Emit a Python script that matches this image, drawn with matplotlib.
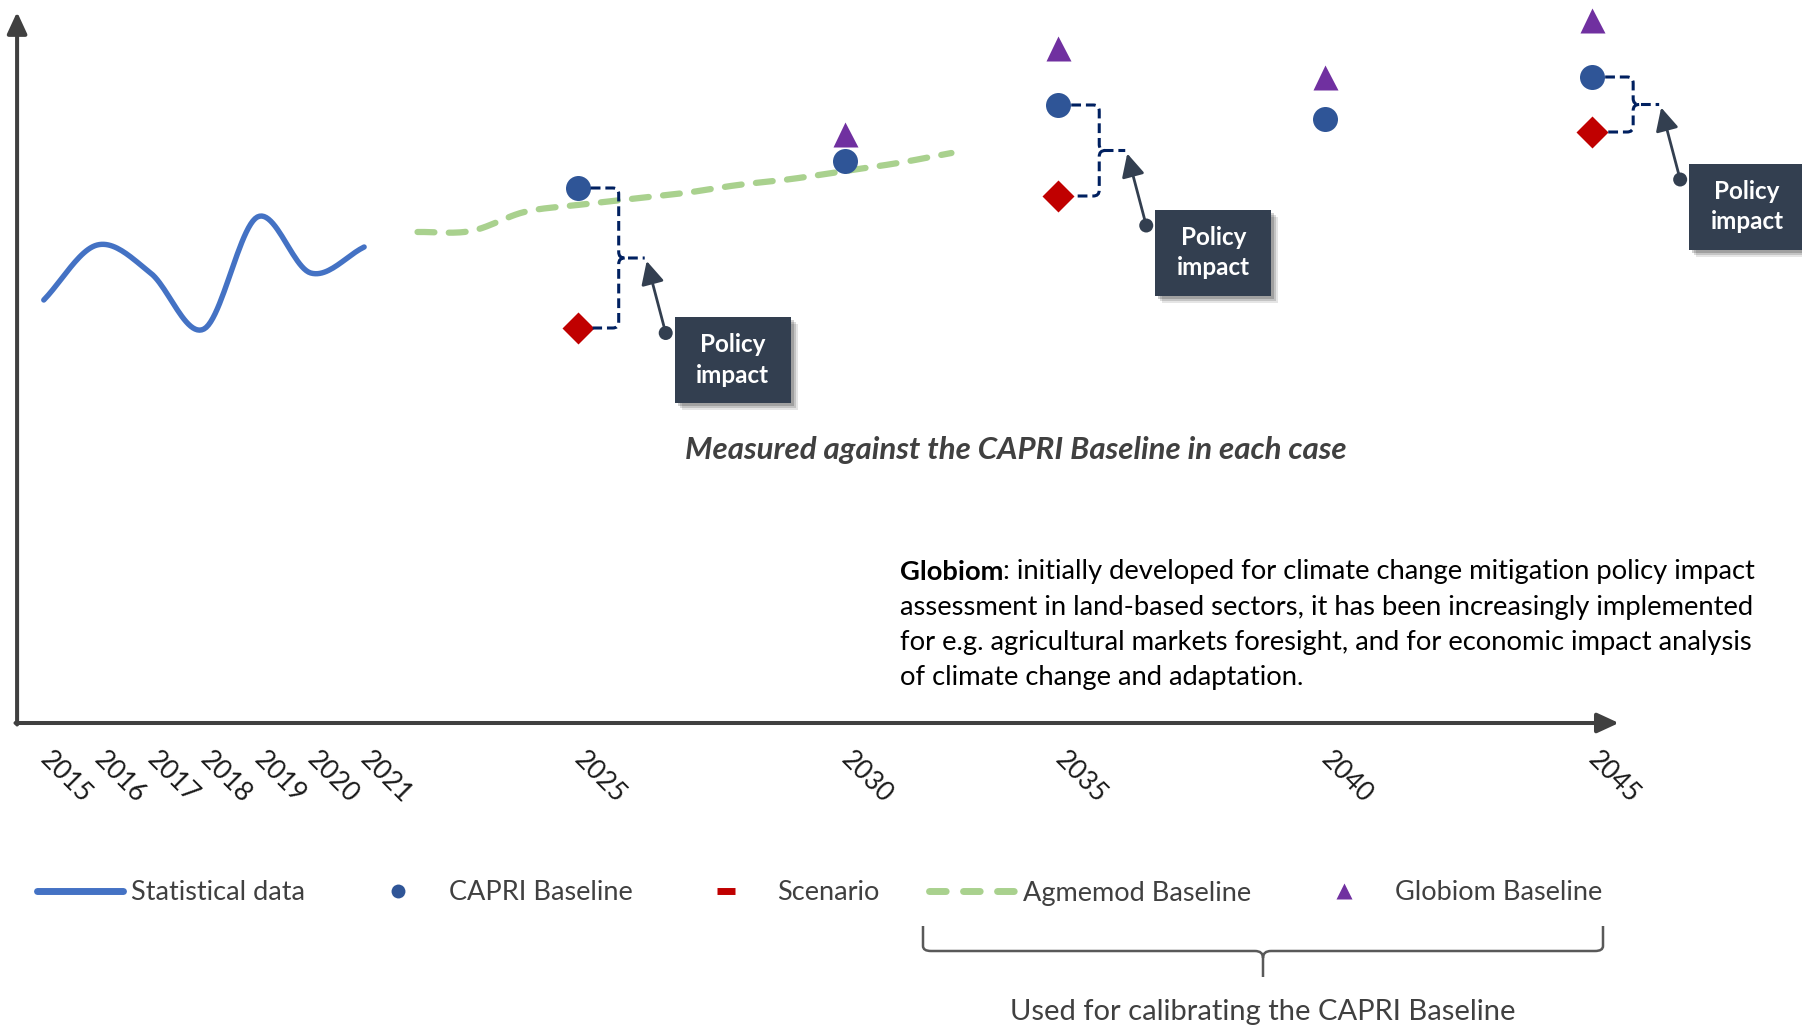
import numpy as np
import matplotlib
matplotlib.use('Agg')
import matplotlib.pyplot as plt
from matplotlib.lines import Line2D
from matplotlib.patches import FancyArrowPatch, Rectangle, PathPatch, Circle
from matplotlib.path import Path
from matplotlib.transforms import ScaledTranslation, IdentityTransform

plt.rcParams['font.family'] = ['Lato', 'DejaVu Sans']

# ── Data ──────────────────────────────────────────────────────────────
stat_years = [2015, 2016, 2017, 2018, 2019, 2020, 2021]
stat_values = [84.6, 95.6, 90.0, 78.8, 101.2, 90.0, 95.2]

agm_years = [2022, 2023, 2024, 2025, 2026, 2027, 2028, 2029, 2030, 2031, 2032]
agm_values = [98.2, 98.4, 102.2, 103.6, 104.8, 106.0, 107.6, 108.8, 110.4, 112.0, 114.0]

model_years = [2025, 2030, 2035, 2040, 2045]
capri_values = [107.0, 112.4, 123.6, 120.9, 129.2]
scenario_values = [79.0, np.nan, 105.4, np.nan, 118.2]
globiom_values = [np.nan, 117.9, 135.0, 129.2, 140.6]

# years that get a "Policy impact" call-out
impact_years = [2025, 2035, 2045]

tick_years = [2015, 2016, 2017, 2018, 2019, 2020, 2021, 2025, 2030, 2035, 2040, 2045]
tick_labels = [str(y) for y in tick_years]

legend_labels = ['Statistical data', 'CAPRI Baseline', 'Scenario',
                 'Agmemod Baseline', 'Globiom Baseline']

globiom_note = [
    'initially developed for climate change mitigation policy impact',
    'assessment in land-based sectors, it has been increasingly implemented',
    'for e.g. agricultural markets foresight, and for economic impact analysis',
    'of climate change and adaptation.',
]

# ── Colours ───────────────────────────────────────────────────────────
C_STAT = '#4472C4'
C_CAPRI = '#2F5597'
C_SCEN = '#C00000'
C_AGM = '#A9D18E'
C_GLOB = '#7030A0'
C_BOX = '#333F50'
C_BRACKET = '#002060'
C_AXIS = '#404040'
C_TEXT = '#404040'

W, H = 1802, 1028

# the time axis is not linear: a gap is squeezed between 2032 and 2035
SCALE_YEARS = [1990, 2032, 2035, 2070]
SCALE_POS = [-25, 17, 19, 54]


def fwd(x):
    return np.interp(x, SCALE_YEARS, SCALE_POS)


def inv(x):
    return np.interp(x, SCALE_POS, SCALE_YEARS)


def smooth(xs, ys, n=24):
    """Catmull-Rom curve through the points (like a smoothed office line)."""
    P = np.column_stack([np.asarray(xs, float), np.asarray(ys, float)])
    P = np.vstack([2 * P[0] - P[1], P, 2 * P[-1] - P[-2]])
    t = np.linspace(0, 1, n, endpoint=False)[:, None]
    out = []
    for i in range(1, len(P) - 2):
        p0, p1, p2, p3 = P[i - 1], P[i], P[i + 1], P[i + 2]
        seg = 0.5 * (2 * p1 + (-p0 + p2) * t
                     + (2 * p0 - 5 * p1 + 4 * p2 - p3) * t ** 2
                     + (-p0 + 3 * p1 - 3 * p2 + p3) * t ** 3)
        out.append(seg)
    out.append(P[-2][None])
    pts = np.vstack(out)
    return pts[:, 0], pts[:, 1]


fig = plt.figure(figsize=(W / 100, H / 100), dpi=100)
ax = fig.add_axes([0, 0, 1, 1])
ax.set_xscale('function', functions=(fwd, inv))
ax.set_xlim(2014.18, 2048.93)
ax.set_ylim(-61, 144.6)
for s in ax.spines.values():
    s.set_visible(False)
ax.spines['bottom'].set_position(('data', 0))
ax.set_yticks([])
ax.set_xticks(tick_years, tick_labels)
ax.tick_params(axis='x', length=0, pad=39, labelsize=19, labelcolor='#1a1a1a')
for lab in ax.get_xticklabels():
    lab.set_rotation(-45)
    lab.set_ha('center')
    lab.set_va('center')
    lab.set_transform(lab.get_transform() + ScaledTranslation(0.22, 0, fig.dpi_scale_trans))

# axes drawn as arrows
arrow_kw = dict(arrowstyle='-|>,head_length=0.65,head_width=0.3', color=C_AXIS,
                lw=2.9, mutation_scale=20, shrinkA=0, shrinkB=0)
ax.annotate('', xy=(2045.5, 0), xytext=(2014.47, 0), arrowprops=arrow_kw)
ax.annotate('', xy=(2014.5, 142.2), xytext=(2014.5, -0.3), arrowprops=arrow_kw)

# ── Series ────────────────────────────────────────────────────────────
sx, sy = smooth(stat_years, stat_values)
ax.plot(sx, sy, color=C_STAT, lw=3.9, solid_capstyle='round', zorder=3)

gx, gy = smooth(agm_years, agm_values)
ax.plot(gx, gy, color=C_AGM, lw=4.5, dashes=(2.7, 2.3), dash_capstyle='round', zorder=2)

ax.plot(model_years, capri_values, 'o', color=C_CAPRI, ms=18, mec='none', zorder=5)
ax.plot(model_years, scenario_values, 'D', color=C_SCEN, ms=16, mec='none', zorder=5)
ax.plot(model_years, globiom_values, '^', color=C_GLOB, ms=18, mec='none', zorder=5)

# ── Policy impact call-outs (pixel layout derived from the markers) ───
ident = IdentityTransform()
for yr in impact_years:
    i = model_years.index(yr)
    cx, cy_c = ax.transData.transform((yr, capri_values[i]))
    _, cy_d = ax.transData.transform((yr, scenario_values[i]))
    bx = cx + 41
    ny = (cy_c + cy_d) / 2
    nub = bx + 26
    r = 6
    verts = [(cx + 13, cy_c), (bx - r, cy_c), (bx, cy_c), (bx, cy_c - r),
             (bx, ny + r), (bx, ny), (bx + r, ny), (nub, ny),
             (bx + r, ny), (bx, ny), (bx, ny - r), (bx, cy_d + r),
             (bx, cy_d), (bx - r, cy_d), (cx + 15, cy_d)]
    codes = [Path.MOVETO, Path.LINETO, Path.CURVE3, Path.CURVE3,
             Path.LINETO, Path.CURVE3, Path.CURVE3, Path.LINETO,
             Path.MOVETO, Path.CURVE3, Path.CURVE3, Path.LINETO,
             Path.CURVE3, Path.CURVE3, Path.LINETO]
    fig.add_artist(PathPatch(Path(verts, codes), fill=False, ec=C_BRACKET, lw=2.2,
                             ls=(0, (3.2, 1.6)), transform=ident, zorder=4))

    bl = nub + 30
    bt = ny - 59
    bw, bh = 116, 86
    for k, a in enumerate([0.10, 0.14, 0.18]):
        off = 7 - 2 * k
        fig.add_artist(Rectangle((bl + off, bt - bh - off), bw, bh, fc='#000000',
                                 alpha=a, ec='none', transform=ident, zorder=5))
    fig.add_artist(Rectangle((bl, bt - bh), bw, bh, fc=C_BOX, ec='none',
                             transform=ident, zorder=6))
    fig.text((bl + bw / 2) / W, (bt - bh / 2) / H, 'Policy\nimpact', color='white',
             fontsize=17.5, fontweight='bold', ha='center', va='center',
             linespacing=1.4, zorder=7)

    tail = (bl - 9, bt - 16)
    tip = (nub + 2, ny - 3)
    fig.add_artist(FancyArrowPatch(tail, tip, arrowstyle='-|>,head_length=0.7,head_width=0.35',
                                   mutation_scale=20, color=C_BOX, lw=2.0,
                                   shrinkA=0, shrinkB=0, transform=ident, zorder=6))
    fig.add_artist(Circle(tail, 7, fc=C_BOX, ec='none', transform=ident, zorder=6))

# ── Text notes ────────────────────────────────────────────────────────
fig.text(1016 / W, 1 - 450 / H, 'Measured against the CAPRI Baseline in each case',
         fontsize=22.5, fontweight='bold', style='italic', color=C_TEXT,
         ha='center', va='center')

fs_note = 19.7
t_bold = fig.text(900 / W, 1 - 580 / H, 'Globiom', fontsize=fs_note, fontweight='bold',
                  color='black', ha='left', va='baseline')
fig.add_artist(plt.Annotation(': ' + globiom_note[0], xy=(1, 0), xycoords=t_bold,
                              fontsize=fs_note, color='black', ha='left', va='bottom'))
for k, line in enumerate(globiom_note[1:]):
    fig.text(900 / W, 1 - (615 + 35 * k) / H, line, fontsize=fs_note, color='black',
             ha='left', va='baseline')

# ── Legend ────────────────────────────────────────────────────────────
handles = [
    Line2D([], [], color=C_STAT, lw=5, solid_capstyle='round'),
    Line2D([], [], ls='none', marker='o', color=C_CAPRI, ms=10, mec='none'),
    Line2D([], [], ls='none', marker='_', color=C_SCEN, ms=13, mew=5),
    Line2D([], [], color=C_AGM, lw=5, dashes=(2.4, 2.5), dash_capstyle='round'),
    Line2D([], [], ls='none', marker='^', color=C_GLOB, ms=12, mec='none'),
]
fs_leg = 19.5
fs_px = fs_leg * 100 / 72
fig.legend(handles, legend_labels, loc='center left', bbox_to_anchor=(37 / W, 1 - 893 / H),
           ncol=5, frameon=False, fontsize=fs_leg, labelcolor=C_TEXT,
           borderpad=0, borderaxespad=0, handlelength=86 / fs_px,
           handletextpad=8 / fs_px, columnspacing=50 / fs_px)

# brace grouping Agmemod and Globiom
bv = [(923, 926), (923, 946), (923, 951), (931, 951), (1255, 951), (1263, 951),
      (1263, 958), (1263, 977), (1263, 958), (1263, 951), (1271, 951), (1595, 951),
      (1603, 951), (1603, 946), (1603, 926)]
bc = [Path.MOVETO, Path.LINETO, Path.CURVE3, Path.CURVE3, Path.LINETO, Path.CURVE3,
      Path.CURVE3, Path.LINETO, Path.MOVETO, Path.CURVE3, Path.CURVE3, Path.LINETO,
      Path.CURVE3, Path.CURVE3, Path.LINETO]
fig.add_artist(PathPatch(Path([(x, H - y) for x, y in bv], bc), fill=False,
                         ec='#595959', lw=1.8, transform=ident))
fig.text(1263 / W, 1 - 1012 / H, 'Used for calibrating the CAPRI Baseline',
         fontsize=21, color=C_TEXT, ha='center', va='center')

fig.savefig('out.png', dpi=100)
